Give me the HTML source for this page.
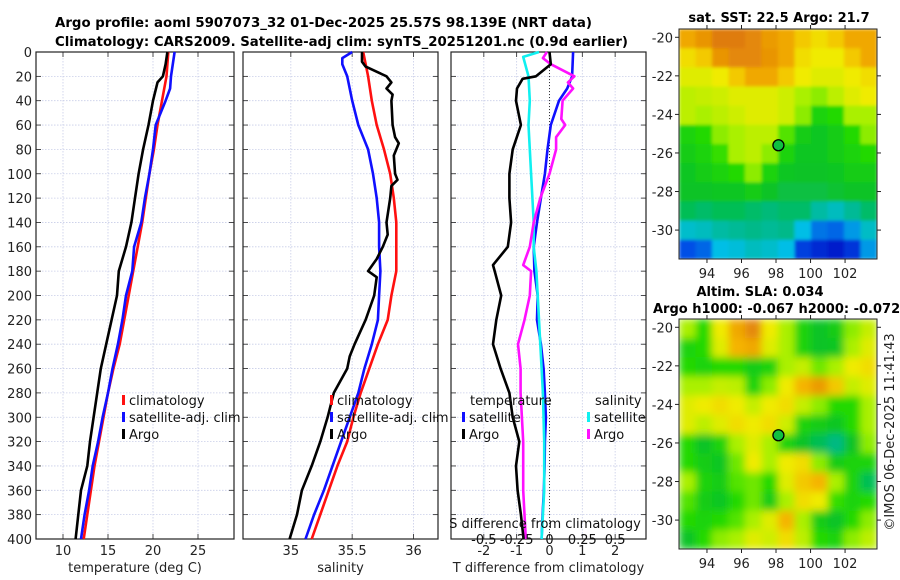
<!DOCTYPE html>
<html><head><meta charset="utf-8">
<style>
html,body{margin:0;padding:0;background:#fff;}
svg{display:block;font-family:"DejaVu Sans","Liberation Sans",sans-serif;}
</style></head>
<body>
<svg id="fig" width="900" height="580" viewBox="0 0 900 580" xmlns="http://www.w3.org/2000/svg">
<text x="55" y="27" font-size="13" font-weight="bold" textLength="537" lengthAdjust="spacingAndGlyphs">Argo profile: aoml 5907073_32 01-Dec-2025 25.57S 98.139E (NRT data)</text>
<text x="55" y="46" font-size="13" font-weight="bold" textLength="573" lengthAdjust="spacingAndGlyphs">Climatology: CARS2009. Satellite-adj clim: synTS_20251201.nc (0.9d earlier)</text>
<text x="779" y="22" font-size="13" font-weight="bold" text-anchor="middle">sat. SST: 22.5 Argo: 21.7</text>
<text x="760" y="296" font-size="13" font-weight="bold" text-anchor="middle">Altim. SLA: 0.034</text>
<text x="653" y="313" font-size="13" font-weight="bold">Argo h1000: -0.067 h2000: -0.072</text>
<text transform="translate(894,432) rotate(-90)" font-size="13" text-anchor="middle" fill="#222">©IMOS 06-Dec-2025 11:41:43</text>
<g id="plots"></g>
</svg>
<script>
// ---------- profile data ----------
const depthStd = [0,20,40,60,80,100,120,140,160,180,200,220,240,260,280,300,320,340,360,380,400];
const tempClim = [21.7,21.5,21.0,20.5,20.1,19.6,19.2,18.8,18.3,17.8,17.3,16.8,16.3,15.6,15.0,14.5,14.0,13.5,13.1,12.7,12.3];
const tempSatDepth = [0,20,30,40,60,80,100,120,140,160,180,200,220,240,260,280,300,320,340,360,380,400];
const tempSat = [22.4,22.0,21.9,21.4,20.3,20.0,19.6,19.1,18.7,17.9,17.7,17.0,16.6,16.1,15.5,15.0,14.4,13.9,13.3,12.9,12.4,12.0];
const tempArgoDepth = [0,10,20,25,40,60,80,100,120,140,160,180,200,220,240,260,280,300,320,340,360,380,400];
const tempArgo = [21.6,21.4,21.1,20.5,20.0,19.5,18.9,18.4,18.0,17.6,17.0,16.2,16.0,15.4,14.8,14.2,13.8,13.4,13.0,12.7,12.0,11.7,11.4];

const salClim = [35.59,35.63,35.66,35.70,35.76,35.81,35.84,35.86,35.86,35.86,35.82,35.79,35.71,35.64,35.57,35.51,35.46,35.38,35.31,35.24,35.17];
const salSatDepth = [0,5,10,20,40,60,70,80,100,120,140,160,180,200,220,240,260,280,300,320,340,360,380,400];
const salSat = [35.50,35.42,35.42,35.46,35.50,35.55,35.59,35.63,35.67,35.70,35.72,35.72,35.73,35.72,35.71,35.66,35.60,35.55,35.48,35.41,35.34,35.27,35.19,35.12];
const salArgoDepth = [0,8,12,20,25,30,35,40,60,70,75,85,100,105,110,120,140,150,160,170,180,185,200,220,240,250,260,280,300,320,340,360,380,400];
const salArgo = [35.58,35.58,35.61,35.78,35.82,35.78,35.83,35.82,35.83,35.85,35.88,35.84,35.85,35.87,35.82,35.81,35.78,35.79,35.75,35.70,35.63,35.70,35.68,35.61,35.52,35.48,35.46,35.35,35.30,35.24,35.17,35.09,35.05,34.99];

const dTArgoDepth = [0,10,20,22,30,40,60,80,100,120,140,160,175,180,200,220,240,260,280,300,320,340,360,380,400];
const dTArgo = [0,0.04,-0.41,-0.82,-0.99,-1.02,-0.87,-1.12,-1.22,-1.22,-1.17,-1.27,-1.72,-1.67,-1.47,-1.62,-1.72,-1.49,-1.22,-1.12,-0.92,-1.02,-0.97,-0.87,-0.79];
const dTSatDepth = [0,20,30,40,60,80,100,120,140,160,180,200,220,240,260,280,300,320,340,360,380,400];
const dTSat = [0.72,0.69,0.54,0.29,0.04,-0.06,-0.14,-0.26,-0.38,-0.48,-0.46,-0.36,-0.38,-0.26,-0.18,-0.14,-0.11,-0.14,-0.15,-0.17,-0.21,-0.24];
const dSSatDepth = [0,4,20,40,60,80,100,120,140,160,180,200,240,280,320,360,400];
const dSSat = [-0.08,-0.20,-0.16,-0.15,-0.16,-0.15,-0.14,-0.13,-0.12,-0.12,-0.10,-0.09,-0.07,-0.05,-0.04,-0.04,-0.06];
const dSArgoDepth = [0,5,10,20,25,30,40,55,60,70,80,100,120,140,160,175,180,200,220,240,260,280,300,320,340,360,380,400];
const dSArgo = [-0.02,-0.05,0.01,0.19,0.14,0.18,0.10,0.09,0.12,0.05,0.05,0,-0.07,-0.12,-0.15,-0.20,-0.14,-0.15,-0.19,-0.24,-0.22,-0.22,-0.21,-0.20,-0.20,-0.20,-0.19,-0.18];

const depthTicks = [0,20,40,60,80,100,120,140,160,180,200,220,240,260,280,300,320,340,360,380,400];
const tempTicks = [10,15,20,25];
const salTicks = [35,35.5,36];
const salTickLabels = ["35","35.5","36"];
const dTTicks = [-2,-1,0,1,2];
const dSTicks = [-0.5,-0.25,0,0.25,0.5];
const dSTickLabels = ["-0.5","-0.25","0","0.25","0.5"];

// ---------- map data (12 x 12 cells, 0..1 colour scale) ----------
const mapLonRange = [92.38,103.85];
const mapLatRange = [-19.57,-31.5];
const sstGrid = [
[.9,.93,.97,.97,.95,.92,.9,.85,.82,.85,.9,.9],
[.82,.85,.93,.95,.95,.93,.9,.82,.8,.8,.85,.9],
[.78,.78,.8,.85,.9,.9,.85,.8,.78,.78,.8,.82],
[.74,.75,.76,.78,.78,.78,.76,.72,.7,.74,.78,.8],
[.74,.72,.74,.76,.78,.78,.76,.7,.6,.62,.72,.72],
[.6,.62,.7,.72,.74,.74,.66,.58,.56,.58,.62,.7],
[.58,.6,.64,.72,.74,.7,.6,.56,.56,.58,.6,.62],
[.56,.58,.6,.62,.7,.6,.56,.55,.55,.56,.58,.58],
[.55,.55,.56,.56,.58,.55,.52,.52,.52,.54,.55,.55],
[.5,.48,.5,.5,.48,.46,.48,.48,.4,.36,.42,.48],
[.34,.36,.4,.42,.44,.42,.44,.3,.2,.18,.25,.35],
[.15,.18,.3,.32,.36,.34,.3,.12,.08,.05,.1,.25]];
const slaGrid = [
[.72,.62,.8,.9,.95,.8,.72,.6,.55,.58,.7,.75],
[.6,.62,.78,.88,.9,.78,.72,.6,.55,.56,.72,.78],
[.62,.6,.62,.62,.58,.6,.72,.75,.68,.72,.8,.82],
[.72,.72,.75,.74,.6,.7,.8,.88,.92,.85,.75,.78],
[.78,.8,.82,.8,.75,.8,.82,.75,.7,.62,.62,.72],
[.78,.74,.78,.82,.8,.82,.76,.6,.58,.56,.62,.72],
[.62,.55,.6,.72,.78,.72,.6,.55,.5,.45,.55,.7],
[.62,.58,.56,.68,.8,.72,.8,.82,.7,.58,.6,.6],
[.72,.6,.58,.66,.68,.62,.78,.85,.88,.72,.6,.5],
[.66,.58,.56,.62,.68,.58,.72,.82,.8,.64,.6,.62],
[.62,.6,.62,.66,.72,.78,.88,.72,.58,.55,.62,.7],
[.55,.62,.7,.72,.78,.76,.82,.74,.62,.6,.7,.74]];
const lonTicks = [94,96,98,100,102];
const latTicks = [-20,-22,-24,-26,-28,-30];
const argoLon = [98.14];
const argoLat = [-25.6];

const NS = "http://www.w3.org/2000/svg";
const root = document.getElementById('plots');
function mk(tag, attrs, parent){ const e=document.createElementNS(NS,tag); for(const k in attrs) e.setAttribute(k,attrs[k]); (parent||root).appendChild(e); return e; }
function lin(d0,d1,r0,r1){ return v => r0 + (v-d0)/(d1-d0)*(r1-r0); }

const PY0=52, PY1=539;
const yDepth = lin(0,400,PY0,PY1);

function panel(name,x0,x1,xDom,ticks,tickLabels,showY,xlabel){
  const xs = lin(xDom[0],xDom[1],x0,x1);
  const g = mk('g',{});
  
  
  depthTicks.forEach(d=>{
    const y=yDepth(d);
    if(d>0&&d<400){ const gl=mk('line',{x1:x0,x2:x1,y1:y,y2:y,stroke:'#c8cde8','stroke-width':0.8,'stroke-dasharray':'1.5,1.5'},g);
        }
    mk('line',{x1:x0,x2:x0+5,y1:y,y2:y,stroke:'#222','stroke-width':0.8},g);
    mk('line',{x1:x1-5,x2:x1,y1:y,y2:y,stroke:'#222','stroke-width':0.8},g);
    if(showY){ const t=mk('text',{x:x0-4,y:y+5,'font-size':13,'text-anchor':'end',fill:'#222'},g); t.textContent=d;
        }
  });
  ticks.forEach((v,i)=>{
    const x=xs(v);
    const gl=mk('line',{x1:x,x2:x,y1:PY0,y2:PY1,stroke:'#c8cde8','stroke-width':0.8,'stroke-dasharray':'1.5,1.5'},g);
     
    mk('line',{x1:x,x2:x,y1:PY1,y2:PY1-5,stroke:'#222','stroke-width':0.8},g);
    mk('line',{x1:x,x2:x,y1:PY0,y2:PY0+5,stroke:'#222','stroke-width':0.8},g);
    const t=mk('text',{x:x,y:PY1+16,'font-size':13,'text-anchor':'middle',fill:'#222'},g); t.textContent=tickLabels[i];
     
  });
  const b=mk('rect',{x:x0,y:PY0,width:x1-x0,height:PY1-PY0,fill:'none',stroke:'#222','stroke-width':1.2},g);
   
  const xl=mk('text',{x:(x0+x1)/2,y:572,'font-size':13,'text-anchor':'middle',fill:'#222'},g); xl.textContent=xlabel;
   
  return {xs,g};
}
function series(p,name,depths,vals,color,scale){
  const pts = vals.map((v,i)=>p.xs(v*(scale||1)).toFixed(1)+','+yDepth(depths[i]).toFixed(1)).join(' ');
  const l=mk('polyline',{points:pts,fill:'none',stroke:color,'stroke-width':2.6,'stroke-linejoin':'round'},p.g);
   
}
function legendEntry(g,name,x,y,color,label){
  const e=mk('g',{},g);
   
  mk('rect',{x:x,y:y-10,width:3,height:10,fill:color},e);
  const t=mk('text',{x:x+7,y:y,'font-size':13,fill:'#111'},e); t.textContent=label;
}

const p1=panel('temperature-panel',36,234,[7,29],tempTicks,tempTicks.map(String),true,'temperature (deg C)');
series(p1,'temp-climatology-line',depthStd,tempClim,'#ff1010');
series(p1,'temp-satellite-line',tempSatDepth,tempSat,'#1010ff');
series(p1,'temp-argo-line',tempArgoDepth,tempArgo,'#000');
legendEntry(p1.g,'legend-climatology',122,405,'#ff1010','climatology');
legendEntry(p1.g,'legend-satellite-adj',122,422,'#1010ff','satellite-adj. clim');
legendEntry(p1.g,'legend-argo',122,439,'#000','Argo');

const p2=panel('salinity-panel',243,438,[34.61,36.2],salTicks,salTickLabels,false,'salinity');
series(p2,'sal-climatology-line',depthStd,salClim,'#ff1010');
series(p2,'sal-satellite-line',salSatDepth,salSat,'#1010ff');
series(p2,'sal-argo-line',salArgoDepth,salArgo,'#000');
legendEntry(p2.g,'legend-climatology',330,405,'#ff1010','climatology');
legendEntry(p2.g,'legend-satellite-adj',330,422,'#1010ff','satellite-adj. clim');
legendEntry(p2.g,'legend-argo',330,439,'#000','Argo');

const p3=panel('difference-panel',451,646,[-3,2.94],dTTicks,dTTicks.map(String),false,'T difference from climatology');
const z=mk('line',{x1:p3.xs(0),x2:p3.xs(0),y1:PY0,y2:PY1,stroke:'#333','stroke-width':1,'stroke-dasharray':'1,2'},p3.g);
 
series(p3,'dT-satellite-line',dTSatDepth,dTSat,'#1010ff');
series(p3,'dS-satellite-line',dSSatDepth,dSSat,'#10f0f0',4);
series(p3,'dS-argo-line',dSArgoDepth,dSArgo,'#ff10ff',4);
series(p3,'dT-argo-line',dTArgoDepth,dTArgo,'#000');
let t=mk('text',{x:470,y:405,'font-size':13,fill:'#111'},p3.g); t.textContent='temperature';
 
t=mk('text',{x:595,y:405,'font-size':13,fill:'#111'},p3.g); t.textContent='salinity';
 
legendEntry(p3.g,'legend-t-satellite',462,422,'#1010ff','satellite');
legendEntry(p3.g,'legend-t-argo',462,439,'#000','Argo');
legendEntry(p3.g,'legend-s-satellite',587,422,'#10f0f0','satellite');
legendEntry(p3.g,'legend-s-argo',587,439,'#ff10ff','Argo');
t=mk('text',{x:545,y:528,'font-size':13,'text-anchor':'middle',fill:'#111'},p3.g); t.textContent='S difference from climatology';
 
dSTicks.forEach((v,i)=>{
  const tt=mk('text',{x:p3.xs(v*4),y:544,'font-size':13,'text-anchor':'middle',fill:'#111'},p3.g); tt.textContent=dSTickLabels[i];
   
});

// ---------- maps ----------
const cstops=[[0,[0,0,190]],[0.15,[0,80,230]],[0.3,[0,190,230]],[0.45,[0,185,130]],[0.55,[10,195,40]],[0.63,[40,220,0]],[0.72,[170,240,0]],[0.8,[240,235,0]],[0.88,[245,180,0]],[1,[215,105,15]]];
function cmap(v){
  for(let i=1;i<cstops.length;i++){ if(v<=cstops[i][0]){ const a=cstops[i-1],b=cstops[i]; const f=(v-a[0])/(b[0]-a[0]);
    const c=a[1].map((x,k)=>Math.round(x+(b[1][k]-x)*f)); return `rgb(${c[0]},${c[1]},${c[2]})`; } }
  return 'rgb(215,105,15)';
}
const defs=mk('defs',{});
const flt=mk('filter',{id:'soft',x:'0',y:'0',width:'1',height:'1'},defs);
mk('feGaussianBlur',{stdDeviation:'4',edgeMode:'duplicate'},flt);
const flt2=mk('filter',{id:'soft2',x:'0',y:'0',width:'1',height:'1'},defs);
mk('feGaussianBlur',{stdDeviation:'1.5',edgeMode:'duplicate'},flt2);

function mapPanel(name,grid,x0,x1,y0,y1,filt){
  const xs=lin(mapLonRange[0],mapLonRange[1],x0,x1);
  const ys=lin(mapLatRange[0],mapLatRange[1],y0,y1);
  const g=mk('g',{});
   
  const cells=mk('g',{filter:'url(#'+filt+')'},g);
  const rows=grid.length, cols=grid[0].length;
  const cw=(x1-x0)/cols, ch=(y1-y0)/rows;
  grid.forEach((row,r)=>row.forEach((v,c)=>{
    const rc=mk('rect',{x:(x0+c*cw).toFixed(2),y:(y0+r*ch).toFixed(2),width:(cw+0.5).toFixed(2),height:(ch+0.5).toFixed(2),fill:cmap(v)},cells);
     
  }));
  mk('rect',{x:x0,y:y0,width:x1-x0,height:y1-y0,fill:'none',stroke:'#222','stroke-width':1},g);
  lonTicks.forEach(v=>{ const x=xs(v);
    mk('line',{x1:x,x2:x,y1:y1,y2:y1+4,stroke:'#222'},g); mk('line',{x1:x,x2:x,y1:y0,y2:y0-4,stroke:'#222'},g);
    const tt=mk('text',{x:x,y:y1+19,'font-size':13,'text-anchor':'middle',fill:'#222'},g); tt.textContent=v;
      });
  latTicks.forEach(v=>{ const y=ys(v);
    mk('line',{x1:x0,x2:x0-4,y1:y,y2:y,stroke:'#222'},g); mk('line',{x1:x1,x2:x1+4,y1:y,y2:y,stroke:'#222'},g);
    const tt=mk('text',{x:x0-6,y:y+5,'font-size':13,'text-anchor':'end',fill:'#222'},g); tt.textContent=v;
      });
  argoLon.forEach((lo,i)=>{
    const m=mk('circle',{cx:xs(lo),cy:ys(argoLat[i]),r:5.5,fill:'#10c040',stroke:'#000','stroke-width':1.3},g);
     
  });
}
mapPanel('sst-map',sstGrid,679,877,29,259,'soft2');
mapPanel('sla-map',slaGrid,679,877,319,549,'soft');
</script>
</body></html>
